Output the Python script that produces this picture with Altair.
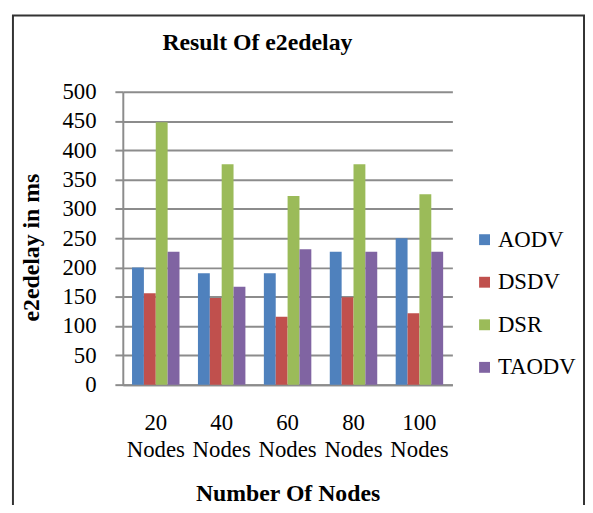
import altair as alt
import pandas as pd

title_text = "Result Of e2edelay"
categories = ["20 Nodes", "40 Nodes", "60 Nodes", "80 Nodes", "100 Nodes"]
protocols = ["AODV", "DSDV", "DSR", "TAODV"]
aodv = [200, 190, 190, 227, 250]
dsdv = [156, 148, 116, 149, 122]
dsr = [448, 376, 322, 376, 325]
taodv = [227, 167, 231, 227, 227]
colors = ["#4F81BD", "#C0504D", "#9BBB59", "#8064A2"]
y_ticks = [0, 50, 100, 150, 200, 250, 300, 350, 400, 450, 500]

rows = []
for p, vals in zip(protocols, [aodv, dsdv, dsr, taodv]):
    for c, v in zip(categories, vals):
        rows.append({"nodes": c, "protocol": p, "delay": v})
df = pd.DataFrame(rows)

FONT = "Liberation Serif"
GRID = "#8c8c8c"

bars = alt.Chart(df).mark_bar().encode(
    x=alt.X(
        "nodes:N",
        sort=categories,
        scale=alt.Scale(paddingInner=0.28, paddingOuter=0.14),
        axis=alt.Axis(
            title="Number Of Nodes",
            labelAngle=0,
            labelExpr="split(datum.value, ' ')",
            labelLineHeight=28,
            labelPadding=27,
            labelFont=FONT,
            labelFontSize=23,
            labelColor="black",
            ticks=False,
            domainColor=GRID,
            domainWidth=2,
            titleFont=FONT,
            titleFontSize=24,
            titleFontWeight="bold",
            titleColor="black",
            titlePadding=20,
        ),
    ),
    xOffset=alt.XOffset("protocol:N", sort=protocols,
                        scale=alt.Scale(paddingInner=0, paddingOuter=0)),
    y=alt.Y(
        "delay:Q",
        scale=alt.Scale(domain=[0, 500], nice=False),
        axis=alt.Axis(
            title="e2edelay in ms",
            values=y_ticks,
            grid=True,
            gridColor=GRID,
            gridWidth=2,
            gridOpacity=1,
            tickColor=GRID,
            tickWidth=2,
            tickSize=8,
            domainColor=GRID,
            domainWidth=2,
            labelFont=FONT,
            labelFontSize=23,
            labelColor="black",
            labelPadding=19,
            titleFont=FONT,
            titleFontSize=24,
            titleFontWeight="bold",
            titleColor="black",
            titlePadding=19,
            titleY=157,
        ),
    ),
    color=alt.Color(
        "protocol:N",
        sort=protocols,
        scale=alt.Scale(domain=protocols, range=colors),
        legend=alt.Legend(
            title=None,
            orient="none",
            legendX=354,
            legendY=138,
            symbolType="square",
            symbolSize=121,
            symbolStrokeWidth=0,
            labelFont=FONT,
            labelFontSize=23,
            labelColor="black",
            labelOffset=2,
            rowPadding=19,
        ),
    ),
)

border = alt.Chart(alt.Data(values=[{}])).mark_rect(
    fillOpacity=0, stroke="#333333", strokeWidth=2
).encode(
    x=alt.value(-111), x2=alt.value(466), y=alt.value(-77), y2=alt.value(440)
)

title = alt.Chart(alt.Data(values=[{"t": title_text}])).mark_text(
    font=FONT, fontSize=24, fontWeight="bold", color="black",
    align="center", baseline="middle"
).encode(
    text="t:N", x=alt.value(136), y=alt.value(-49)
)

chart = alt.layer(border, title, bars).properties(
    width=333,
    height=296,
    autosize="none",
    padding={"left": 116, "top": 82, "right": 134, "bottom": 119},
).configure_view(stroke=None)

chart.save("out.html", embed_options={"renderer": "svg", "actions": False})
